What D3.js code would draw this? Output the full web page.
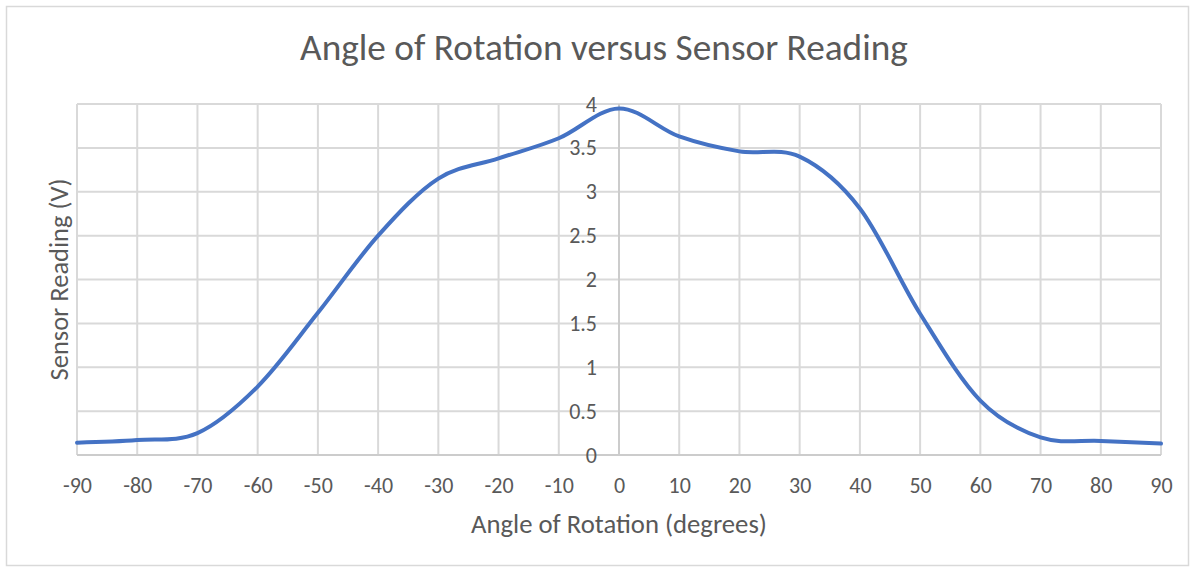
<!DOCTYPE html>
<html>
<head>
<meta charset="utf-8">
<script src="https://cdn.jsdelivr.net/npm/d3@7"></script>
<style>
  body { margin: 0; background: #fff; }
  text { font-family: Carlito, Calibri, Lato, "Open Sans", sans-serif; fill: #595959; }
</style>
</head>
<body>
<svg id="chart" width="1195" height="569"></svg>
<script>
// ===== DATA =====
const angles   = [-90, -80, -70, -60, -50, -40, -30, -20, -10, 0, 10, 20, 30, 40, 50, 60, 70, 80, 90];
const readings = [0.14, 0.17, 0.25, 0.78, 1.62, 2.50, 3.15, 3.38, 3.61, 3.95, 3.63, 3.46, 3.40, 2.81, 1.61, 0.62, 0.20, 0.16, 0.13];
const yTicks   = [0, 0.5, 1, 1.5, 2, 2.5, 3, 3.5, 4];

const chartTitle = "Angle of Rotation versus Sensor Reading";
const xTitle = "Angle of Rotation (degrees)";
const yTitle = "Sensor Reading (V)";

// ===== LAYOUT =====
const W = 1195, H = 569;
const plot = { left: 77, right: 1161, top: 104, bottom: 455 };

const svg = d3.select("#chart");

// scale a text element's font so it spans a given width
function fitWidth(sel, target) {
  const node = sel.node();
  const size = parseFloat(sel.attr("font-size"));
  const len = node.getComputedTextLength();
  sel.attr("font-size", (size * target / len).toFixed(2));
}

// chart area border
svg.append("rect")
  .attr("x", 6.5).attr("y", 6.5)
  .attr("width", W - 13).attr("height", H - 10)
  .attr("fill", "#fff")
  .attr("stroke", "#d9d9d9")
  .attr("stroke-width", 1.5);

const x = d3.scaleLinear().domain([-90, 90]).range([plot.left, plot.right]);
const y = d3.scaleLinear().domain([0, 4]).range([plot.bottom, plot.top]);

// ===== GRIDLINES =====
svg.append("g")
  .selectAll("line.hgrid")
  .data(yTicks)
  .enter()
  .append("line")
  .attr("x1", plot.left).attr("x2", plot.right)
  .attr("y1", d => y(d)).attr("y2", d => y(d))
  .attr("stroke", "#d9d9d9")
  .attr("stroke-width", 2);

svg.append("g")
  .selectAll("line.vgrid")
  .data(angles)
  .enter()
  .append("line")
  .attr("x1", d => x(d)).attr("x2", d => x(d))
  .attr("y1", plot.top).attr("y2", plot.bottom)
  .attr("stroke", "#d9d9d9")
  .attr("stroke-width", 2);

// axis lines (bottom + vertical axis through 0)
svg.append("line")
  .attr("x1", plot.left).attr("x2", plot.right)
  .attr("y1", y(0)).attr("y2", y(0))
  .attr("stroke", "#cccccc").attr("stroke-width", 2);
svg.append("line")
  .attr("x1", x(0)).attr("x2", x(0))
  .attr("y1", plot.top).attr("y2", plot.bottom)
  .attr("stroke", "#cccccc").attr("stroke-width", 2);

// ===== AXES (labels only) =====
// plain hyphen for negatives, like the original
const xAxis = svg.append("g")
  .attr("transform", `translate(0,${plot.bottom})`)
  .call(d3.axisBottom(x).tickValues(angles).tickSize(0).tickPadding(22).tickFormat(d => String(d)));
xAxis.select(".domain").remove();
xAxis.selectAll("text")
  .attr("font-size", 22)
  .attr("fill", "#595959")
  .attr("font-family", null);

const yAxis = svg.append("g")
  .attr("transform", `translate(${x(0)},0)`)
  .call(d3.axisLeft(y).tickValues(yTicks).tickSize(0).tickPadding(22).tickFormat(d => String(d)));
yAxis.select(".domain").remove();
yAxis.selectAll("text")
  .attr("font-size", 22)
  .attr("fill", "#595959")
  .attr("font-family", null);

// ===== LINE =====
const line = d3.line()
  .x((d, i) => x(angles[i]))
  .y(d => y(d))
  .curve(d3.curveCardinal.tension(0));

svg.append("path")
  .datum(readings)
  .attr("d", line)
  .attr("fill", "none")
  .attr("stroke", "#4472C4")
  .attr("stroke-width", 4)
  .attr("stroke-linejoin", "round")
  .attr("stroke-linecap", "round");

// ===== TITLES =====
const title = svg.append("text")
  .attr("x", 604).attr("y", 60)
  .attr("text-anchor", "middle")
  .attr("font-size", 32)
  .text(chartTitle);
fitWidth(title, 608);

const xt = svg.append("text")
  .attr("x", x(0)).attr("y", 533)
  .attr("text-anchor", "middle")
  .attr("font-size", 22)
  .text(xTitle);
fitWidth(xt, 296);

const yt = svg.append("text")
  .attr("transform", `translate(68,${(plot.top + plot.bottom) / 2}) rotate(-90)`)
  .attr("text-anchor", "middle")
  .attr("font-size", 22)
  .text(yTitle);
fitWidth(yt, 202);
</script>
</body>
</html>
